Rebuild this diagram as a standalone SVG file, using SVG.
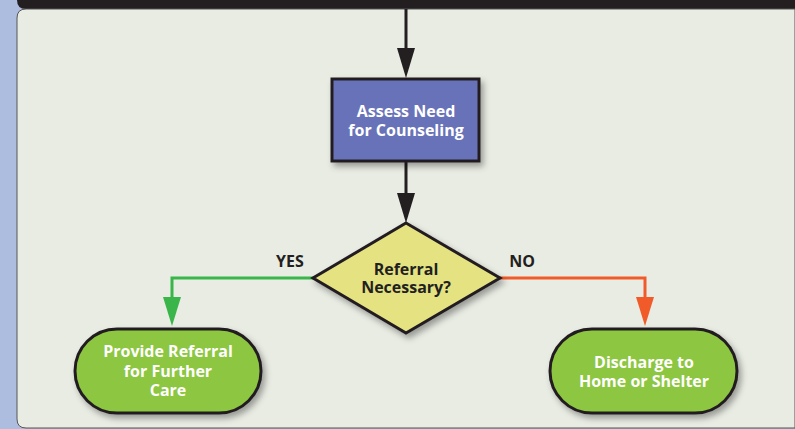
<svg xmlns="http://www.w3.org/2000/svg" width="795" height="429" viewBox="0 0 795 429">
<defs>
<style>
.lbl{font-family:"Open Sans","Liberation Sans",sans-serif;font-weight:bold;font-size:16px;text-anchor:middle}
.w{fill:#ffffff}
.d{fill:#231f20}
.node{stroke:#231f20;stroke-width:3}
</style>
<filter id="sh" x="-20%" y="-20%" width="150%" height="150%">
<feDropShadow dx="3" dy="4" stdDeviation="3" flood-color="#000" flood-opacity="0.35"/>
</filter>
</defs>
<rect x="0" y="0" width="795" height="429" fill="#adbde0"/>
<path d="M17,0 H795 V9 H26 Q17,9 17,0 Z" fill="#231f20"/>
<path d="M26,9 H795 V428 H26 Q17,428 17,419 V18 Q17,9 26,9 Z" fill="#e9ece3" stroke="#555" stroke-width="1"/>
<g id="connectors" fill="none" stroke-width="3">
<line x1="406" y1="9" x2="406" y2="50" stroke="#231f20"/>
<path d="M397,48 L415,48 L406,78 Z" fill="#231f20" stroke="none"/>
<line x1="406" y1="162" x2="406" y2="195" stroke="#231f20"/>
<path d="M397,193 L415,193 L406,223 Z" fill="#231f20" stroke="none"/>
<polyline points="313,278 172,278 172,300" stroke="#39b54a"/>
<path d="M163,297 L181,297 L172,326 Z" fill="#39b54a" stroke="none"/>
<polyline points="500,278 645,278 645,300" stroke="#f15a29"/>
<path d="M636,297 L654,297 L645,326 Z" fill="#f15a29" stroke="none"/>
<text x="290" y="267" class="lbl d" stroke="none">YES</text>
<text x="522" y="267" class="lbl d" stroke="none">NO</text>
</g>
<g id="assess">
<rect x="332" y="79" width="147" height="82" class="node" fill="#6872b8" filter="url(#sh)"/>
<text x="406" y="117" class="lbl w">Assess Need</text>
<text x="406" y="136" class="lbl w">for Counseling</text>
</g>
<g id="decision">
<polygon points="406,223 500,278 406,333 313,278" class="node" fill="#e5e381" filter="url(#sh)" stroke-linejoin="miter"/>
<text x="406" y="275" class="lbl d">Referral</text>
<text x="406" y="293" class="lbl d">Necessary?</text>
</g>
<g id="referral">
<rect x="75" y="329" width="186" height="84" rx="42" ry="42" class="node" fill="#8dc63f" filter="url(#sh)"/>
<text x="168" y="357" class="lbl w">Provide Referral</text>
<text x="168" y="377" class="lbl w">for Further</text>
<text x="168" y="396" class="lbl w">Care</text>
</g>
<g id="discharge">
<rect x="550" y="329" width="187" height="84" rx="42" ry="42" class="node" fill="#8dc63f" filter="url(#sh)"/>
<text x="644" y="368" class="lbl w">Discharge to</text>
<text x="644" y="387" class="lbl w">Home or Shelter</text>
</g>
</svg>
